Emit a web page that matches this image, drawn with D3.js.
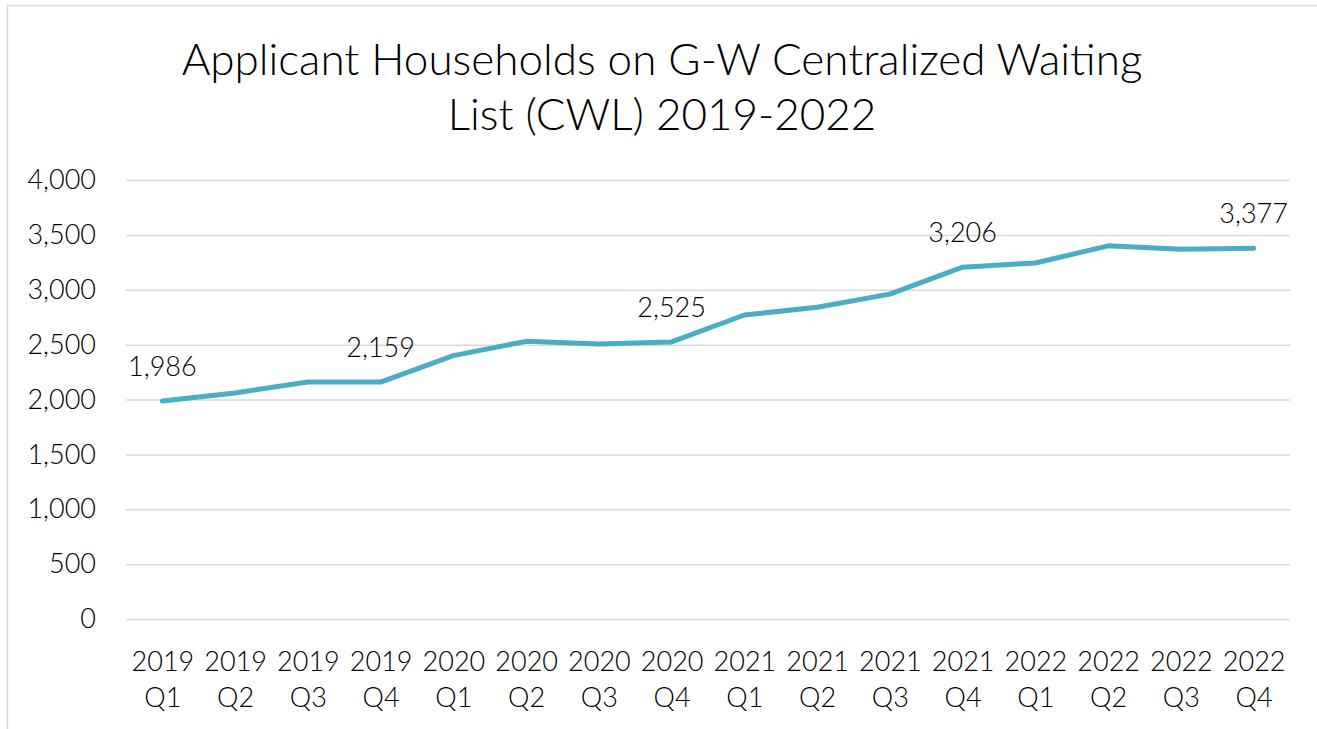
<!DOCTYPE html>
<html>
<head>
<meta charset="utf-8">
<script src="https://cdn.jsdelivr.net/npm/d3@7"></script>
<style>
  body { margin: 0; background: #fff; overflow: hidden; }
  svg { font-family: Lato, "Open Sans", sans-serif; display: block; }
</style>
</head>
<body>
<div id="chart"></div>
<script>
const years = ["2019", "2019", "2019", "2019", "2020", "2020", "2020", "2020",
               "2021", "2021", "2021", "2021", "2022", "2022", "2022", "2022"];
const quarters = ["Q1", "Q2", "Q3", "Q4", "Q1", "Q2", "Q3", "Q4",
                  "Q1", "Q2", "Q3", "Q4", "Q1", "Q2", "Q3", "Q4"];
const households = [1986, 2060, 2159, 2159, 2400, 2530, 2505, 2525,
                    2770, 2840, 2960, 3206, 3244, 3400, 3370, 3377];
const labelled = [0, 3, 7, 11, 15]; // points that carry a data label
const yTicks = [0, 500, 1000, 1500, 2000, 2500, 3000, 3500, 4000];

const W = 1317, H = 729;
const margin = { top: 180, right: 27, bottom: 110, left: 126 };
const width = W - margin.left - margin.right;
const height = H - margin.top - margin.bottom;
const font = "Lato, 'Open Sans', sans-serif";
const fs = 27;

const svg = d3.select("#chart").append("svg")
    .attr("width", W)
    .attr("height", H);

// chart border (cropped at right and bottom in the original)
svg.append("rect")
    .attr("x", 7.5).attr("y", 5.5)
    .attr("width", W + 20).attr("height", H + 20)
    .attr("fill", "none")
    .attr("stroke", "#d9d9d9")
    .attr("stroke-width", 1.5);

// title
const title = svg.append("text")
    .attr("text-anchor", "middle")
    .attr("font-family", font)
    .attr("font-size", 44)
    .attr("font-weight", 300)
    .attr("fill", "#000");
title.append("tspan").attr("x", 662).attr("y", 75).text("Applicant Households on G-W Centralized Waiting");
title.append("tspan").attr("x", 662).attr("y", 130).text("List (CWL) 2019-2022");

const g = svg.append("g")
    .attr("transform", `translate(${margin.left},${margin.top})`);

const x = d3.scalePoint()
    .domain(d3.range(households.length))
    .range([0, width])
    .padding(0.5);

const y = d3.scaleLinear()
    .domain([0, 4000])
    .range([height, 0]);

// gridlines + y labels
const yAxis = g.append("g")
    .call(d3.axisLeft(y)
        .tickValues(yTicks)
        .tickSize(-width)
        .tickPadding(30)
        .tickFormat(d3.format(",")));
yAxis.select(".domain").remove();
yAxis.selectAll(".tick line").attr("stroke", "#d9d9d9").attr("stroke-width", 1.5);
yAxis.selectAll(".tick text")
    .attr("font-size", fs)
    .attr("font-weight", 300)
    .attr("fill", "#000")
    .attr("font-family", font);

// x labels (two lines)
const xAxis = g.append("g")
    .attr("transform", `translate(0,${height})`)
    .call(d3.axisBottom(x).tickSize(0).tickFormat(""));
xAxis.select(".domain").remove();
xAxis.selectAll(".tick").each(function(i) {
    const t = d3.select(this).append("text")
        .attr("text-anchor", "middle")
        .attr("font-family", font)
        .attr("font-size", fs)
        .attr("font-weight", 300)
        .attr("fill", "#000");
    t.append("tspan").attr("x", 0).attr("y", 52).text(years[i]);
    t.append("tspan").attr("x", 0).attr("y", 88).text(quarters[i]);
});

// line
const line = d3.line()
    .x((d, i) => x(i))
    .y(d => y(d));

g.append("path")
    .datum(households)
    .attr("fill", "none")
    .attr("stroke", "#4bacc6")
    .attr("stroke-width", 5)
    .attr("stroke-linecap", "round")
    .attr("stroke-linejoin", "round")
    .attr("d", line);

// data labels
g.selectAll(".dlabel")
    .data(labelled)
    .enter().append("text")
    .attr("class", "dlabel")
    .attr("x", i => x(i))
    .attr("y", i => y(households[i]) - 25)
    .attr("text-anchor", "middle")
    .attr("font-family", font)
    .attr("font-size", fs)
    .attr("font-weight", 300)
    .attr("fill", "#000")
    .text(i => d3.format(",")(households[i]));
</script>
</body>
</html>
